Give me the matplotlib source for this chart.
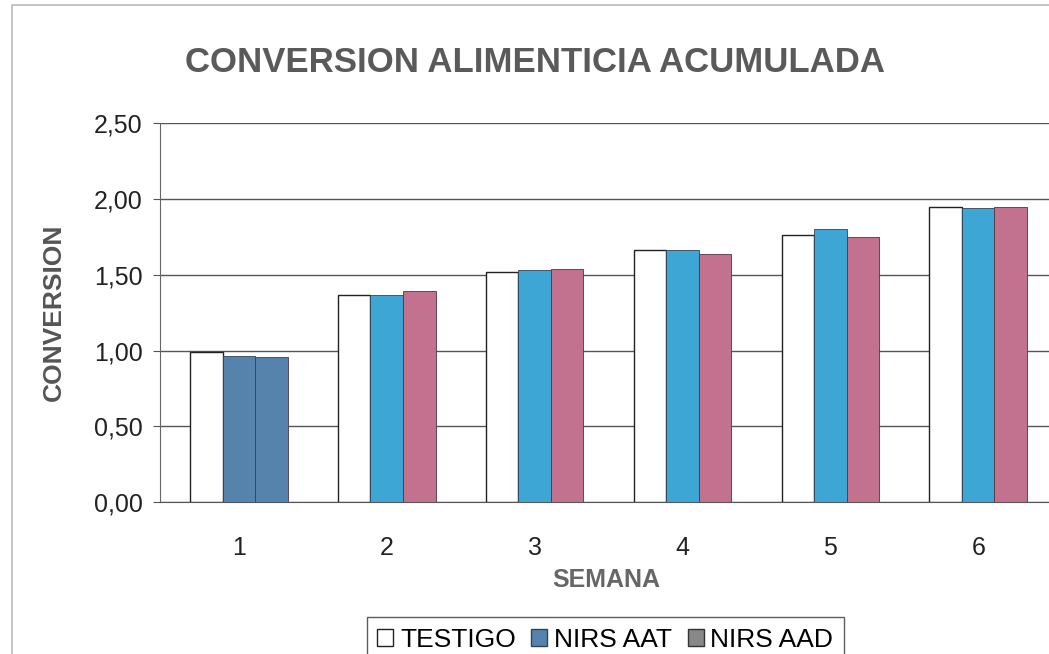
import numpy as np
import matplotlib
matplotlib.use("Agg")
import matplotlib.pyplot as plt
from matplotlib.patches import Rectangle, Patch

plt.rcParams['font.family'] = ['Liberation Sans', 'DejaVu Sans']

# data
semanas = ["1", "2", "3", "4", "5", "6"]
testigo = [0.99, 1.365, 1.52, 1.66, 1.76, 1.945]
nirs_aat = [0.965, 1.365, 1.53, 1.66, 1.80, 1.94]
nirs_aad = [0.96, 1.39, 1.54, 1.635, 1.75, 1.945]
yticks = [0.0, 0.5, 1.0, 1.5, 2.0, 2.5]

c_blue = "#3ea6d4"
c_pink = "#c2728f"
c_week1 = "#5683ab"  # week 1 printed as speckled steel blue

fig = plt.figure(figsize=(10.49, 6.54), dpi=100)
ax = fig.add_axes([0.153, 0.232, 0.850, 0.580])

x = np.arange(1, len(semanas) + 1)
w = 0.22

aat_colors = [c_week1] + [c_blue] * (len(semanas) - 1)
aad_colors = [c_week1] + [c_pink] * (len(semanas) - 1)

ax.bar(x - w, testigo, w, color="white", edgecolor="#222222", linewidth=1.0,
       zorder=3)
ax.bar(x, nirs_aat, w, color=aat_colors, edgecolor="#334455", linewidth=0.6,
       zorder=3)
ax.bar(x + w, nirs_aad, w, color=aad_colors, edgecolor="#553344", linewidth=0.6,
       zorder=3)

ax.set_xlim(0.47, 6.5)
ax.set_ylim(0, 2.5)
ax.set_yticks(yticks)
ax.set_yticklabels([f"{v:.2f}".replace(".", ",") for v in yticks], fontsize=18,
                   color="#222222")
ax.set_xticks(x)
ax.set_xticklabels(semanas, fontsize=18, color="#222222")
ax.tick_params(axis="x", length=0, pad=24)
ax.tick_params(axis="y", length=5, color="#555555", pad=8)

ax.yaxis.grid(True, color="#555555", linewidth=1.0, zorder=0)
ax.set_axisbelow(True)
for s in ["top", "right"]:
    ax.spines[s].set_visible(False)
ax.spines["left"].set_color("#666666")
ax.spines["bottom"].set_color("#555555")

ax.set_ylabel("CONVERSION", fontsize=19, fontweight="bold", color="#555555",
              labelpad=20)
ax.set_xlabel("SEMANA", fontsize=18, fontweight="bold", color="#666666",
              labelpad=6)

fig.text(0.51, 0.905, "CONVERSION ALIMENTICIA ACUMULADA", ha="center",
         va="center", fontsize=25, fontweight="bold", color="#5a5a5a")

handles = [Patch(facecolor="white", edgecolor="#222222", label="TESTIGO"),
           Patch(facecolor=c_week1, edgecolor="#334455", label="NIRS AAT"),
           Patch(facecolor="#888888", edgecolor="#333333", label="NIRS AAD")]
leg = fig.legend(handles=handles, loc="lower center",
                 bbox_to_anchor=(0.577, -0.025), ncol=3, fontsize=19,
                 frameon=True, fancybox=False, handlelength=0.6,
                 handleheight=0.6, handletextpad=0.25, columnspacing=0.6,
                 borderpad=0.4, borderaxespad=0.3)
leg.get_frame().set_edgecolor("#333333")
leg.get_frame().set_linewidth(1.0)

# faint scan border
fig.patches.append(Rectangle((0.011, -0.01), 1.0, 1.002, transform=fig.transFigure,
                             fill=False, edgecolor="#bbbbbb", linewidth=1.2))

fig.savefig("out.png", dpi=100)
